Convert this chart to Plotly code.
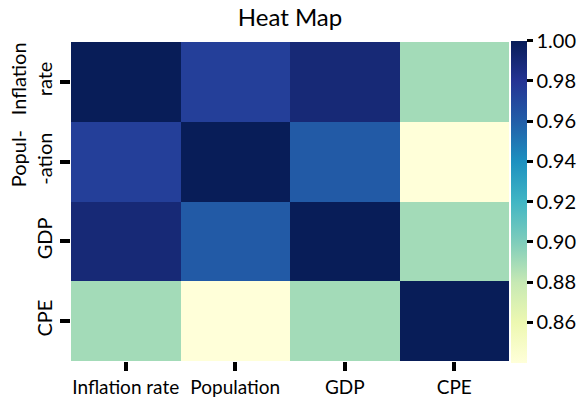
import plotly.graph_objects as go
import plotly.colors as pc

x_labels = ["Inflation rate", "Population", "GDP", "CPE"]
y_labels = ["Inflation<br>rate", "Popul-<br>-ation", "GDP", "CPE"]

row_inflation = [1.00, 0.975, 0.990, 0.890]
row_population = [0.975, 1.00, 0.962, 0.840]
row_gdp = [0.990, 0.962, 1.00, 0.890]
row_cpe = [0.890, 0.840, 0.890, 1.00]

cbar_ticks = [0.86, 0.88, 0.90, 0.92, 0.94, 0.96, 0.98, 1.00]
cbar_text = ["0.86", "0.88", "0.90", "0.92", "0.94", "0.96", "0.98", "1.00"]

z = [row_inflation, row_population, row_gdp, row_cpe]

font_family = "Lato, Open Sans, sans-serif"

fig = go.Figure(go.Heatmap(
    z=z, x=x_labels, y=y_labels,
    colorscale=pc.sequential.YlGnBu,
    zmin=0.84, zmax=1.00,
    xgap=0, ygap=0,
    colorbar=dict(
        thickness=16, len=1.01, y=0.5, yanchor="middle",
        x=1.0, xanchor="left", xpad=2, ypad=0,
        outlinewidth=0,
        tickmode="array", tickvals=cbar_ticks, ticktext=cbar_text,
        ticks="outside", ticklen=6, tickwidth=3, tickcolor="black",
        tickfont=dict(size=20, family=font_family, color="black"),
    ),
))

fig.update_layout(
    width=581, height=399,
    margin=dict(l=71, r=72, t=42, b=38, autoexpand=False),
    paper_bgcolor="white", plot_bgcolor="white",
    title=dict(text="Heat Map", x=0.5, xref="paper", xanchor="center",
               y=0.955, yanchor="middle",
               font=dict(size=24, family=font_family, color="black")),
    font=dict(family=font_family, color="black"),
)
fig.update_xaxes(ticks="outside", ticklen=9, tickwidth=4, tickcolor="black",
                 tickangle=0, automargin=False,
                 tickfont=dict(size=19, family=font_family, color="black"),
                 showgrid=False, zeroline=False, showline=False)
fig.update_yaxes(autorange="reversed", ticks="outside", ticklen=10, tickwidth=4,
                 tickcolor="black", tickangle=-90, automargin=False,
                 tickfont=dict(size=20, family=font_family, color="black"),
                 showgrid=False, zeroline=False, showline=False)

fig.write_html("out.html", config={"displayModeBar": False},
               post_script="document.body.style.margin='0';document.body.style.overflow='hidden';")
